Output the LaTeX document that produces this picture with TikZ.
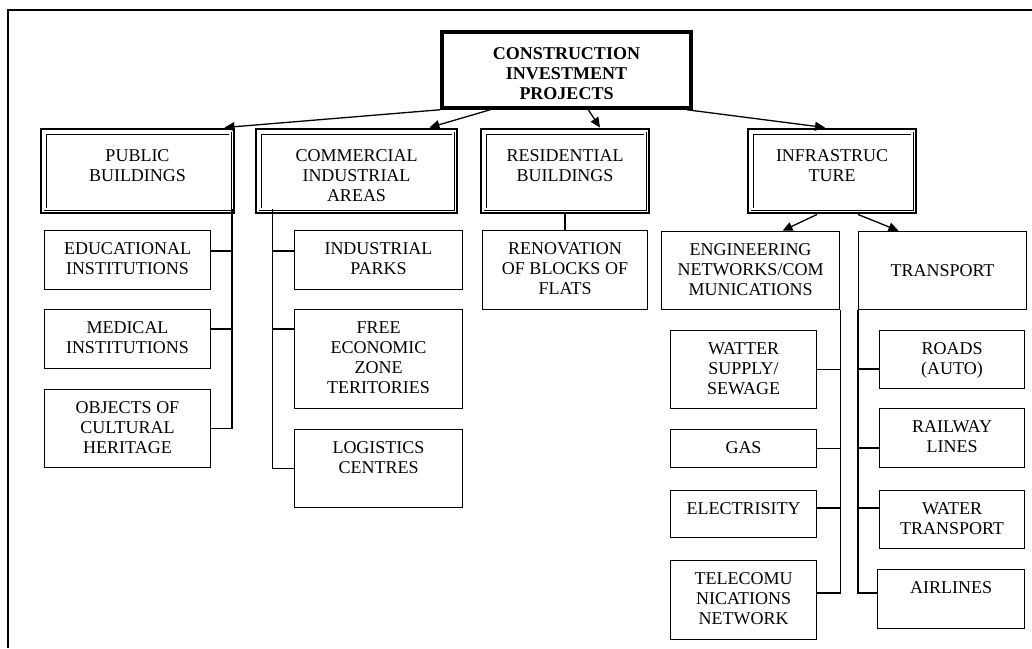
\documentclass[tikz,border=0pt]{standalone}
\usepackage{fontspec}
\setmainfont{Liberation Serif}
\usetikzlibrary{arrows.meta}

\tikzset{
	cell/.style={draw, line width=1.5pt, inner sep=0pt},
	group/.style={draw, line width=0.9pt, double, double distance=1.2pt, inner sep=0pt, minimum height=76pt},
	root/.style={draw, line width=3.5pt, inner sep=0pt, minimum width=249pt, minimum height=76pt},
	txt/.style={anchor=north, align=center, inner sep=0pt, font=\fontsize{18}{20}\selectfont},
	link/.style={line width=1.5pt},
	arr/.style={line width=1.3pt, -{Triangle[length=10pt,width=9pt]}}
}

\begin{document}
\begin{tikzpicture}[x=1pt, y=-1pt]
		
		\useasboundingbox (0,0) rectangle (1032,648);
		\draw[line width=2pt] (1032,10) -- (8,10) -- (8,648);
		
		\node[root, label={[txt, font=\fontsize{18}{20}\selectfont\bfseries, yshift=-17pt]north:CONSTRUCTION\\INVESTMENT\\PROJECTS}] (top) at (566.5,70) {};
		
		\node[group, minimum width=185pt, label={[txt, yshift=-16.5pt]north:PUBLIC\\BUILDINGS}] (pub) at (137.5,171) {};
		\node[group, minimum width=193pt, label={[txt, yshift=-16.5pt]north:COMMERCIAL\\INDUSTRIAL\\AREAS}] (com) at (356.5,171) {};
		\node[group, minimum width=160pt, label={[txt, yshift=-16.5pt]north:RESIDENTIAL\\BUILDINGS}] (res) at (565,171) {};
		\node[group, minimum width=160pt, label={[txt, yshift=-16.5pt]north:INFRASTRUC\\TURE}] (inf) at (832,171) {};
		
		\foreach \n in {pub,com,res,inf}
			\draw[line width=1.6pt] ([shift={(-3.6pt,3.6pt)}]\n.north west) rectangle ([shift={(3.6pt,-3.6pt)}]\n.south east);
		
		\node[cell, minimum width=166pt, minimum height=59pt, label={[txt, yshift=-13pt]north:EDUCATIONAL\\INSTITUTIONS}] (edu) at (127.5,260) {};
		\node[cell, minimum width=166pt, minimum height=59pt, label={[txt, yshift=-13pt]north:MEDICAL\\INSTITUTIONS}] (med) at (127.5,339) {};
		\node[cell, minimum width=166pt, minimum height=78pt, label={[txt, yshift=-13pt]north:OBJECTS OF\\CULTURAL\\HERITAGE}] (obj) at (127.5,428.5) {};
		
		\node[cell, minimum width=168pt, minimum height=59pt, label={[txt, yshift=-13pt]north:INDUSTRIAL\\PARKS}] (ind) at (378.5,260) {};
		\node[cell, minimum width=168pt, minimum height=99pt, label={[txt, yshift=-13pt]north:FREE\\ECONOMIC\\ZONE\\TERITORIES}] (fez) at (378.5,359) {};
		\node[cell, minimum width=168pt, minimum height=78pt, label={[txt, yshift=-13pt]north:LOGISTICS\\CENTRES}] (log) at (378.5,468.5) {};
		
		\node[cell, minimum width=165pt, minimum height=79pt, label={[txt, yshift=-13pt]north:RENOVATION\\OF BLOCKS OF\\FLATS}] (ren) at (565,270) {};
		
		\node[cell, minimum width=178pt, minimum height=78pt, label={[txt, yshift=-13pt]north:ENGINEERING\\NETWORKS/COM\\MUNICATIONS}] (eng) at (750.5,270.5) {};
		\node[cell, minimum width=168pt, minimum height=78pt, label={[txt, yshift=-34pt]north:TRANSPORT}] (tra) at (942.5,270.5) {};
		
		\node[cell, minimum width=146pt, minimum height=78pt, label={[txt, yshift=-13pt]north:WATTER\\SUPPLY/\\SEWAGE}] (wat) at (743.5,369.5) {};
		\node[cell, minimum width=146pt, minimum height=38pt, label={[txt, yshift=-13pt]north:GAS}] (gas) at (743.5,448.5) {};
		\node[cell, minimum width=146pt, minimum height=47pt, label={[txt, yshift=-13pt]north:ELECTRISITY}] (ele) at (743.5,514) {};
		\node[cell, minimum width=146pt, minimum height=79pt, label={[txt, yshift=-13pt]north:TELECOMU\\NICATIONS\\NETWORK}] (tel) at (743.5,600) {};
		
		\node[cell, minimum width=145pt, minimum height=58pt, label={[txt, yshift=-13pt]north:ROADS\\(AUTO)}] (rds) at (952,359.5) {};
		\node[cell, minimum width=145pt, minimum height=59pt, label={[txt, yshift=-13pt]north:RAILWAY\\LINES}] (rai) at (952,438) {};
		\node[cell, minimum width=145pt, minimum height=58pt, label={[txt, yshift=-13pt]north:WATER\\TRANSPORT}] (wtr) at (952,519.5) {};
		\node[cell, minimum width=147pt, minimum height=59pt, label={[txt, yshift=-13pt]north:AIRLINES}] (air) at (951,599) {};
		
		\draw[arr] (top.south west) -- ([shift={(-6pt,5pt)}]pub.north east);
		\draw[arr] ([xshift=50pt]top.south west) -- ([shift={(-24pt,5pt)}]com.north east);
		\draw[arr] ([xshift=148pt]top.south west) -- ([shift={(35pt,5pt)}]res.north);
		\draw[arr] ([xshift=-6pt]top.south east) -- ([shift={(-7pt,5pt)}]inf.north);
		\draw[arr] ([shift={(-15pt,-5pt)}]inf.south) -- ([xshift=32pt]eng.north);
		\draw[arr] ([shift={(26pt,-5pt)}]inf.south) -- ([xshift=-44pt]tra.north);
		
		\draw[link] ([xshift=1.5pt]pub.south east) |- ([yshift=9pt]edu.east);
		\draw[link] ([xshift=1.5pt]pub.south east) |- ([yshift=10pt]med.east);
		\draw[link] ([xshift=1.5pt]pub.south east) |- (obj.east);
		
		\draw[link] ([xshift=13pt]com.south west) |- ([yshift=9pt]ind.west);
		\draw[link] ([xshift=13pt]com.south west) |- ([yshift=30pt]fez.west);
		\draw[link] ([xshift=13pt]com.south west) |- (log.west);
		
		\draw[link] ([yshift=-5pt]res.south) -- (ren.north);
		
		\draw[link] (eng.south east) |- (wat.east);
		\draw[link] (eng.south east) |- (gas.east);
		\draw[link] (eng.south east) |- ([yshift=6pt]ele.east);
		\draw[link] (eng.south east) |- ([yshift=7pt]tel.east);
		
		\draw[link] (tra.south west) |- ([yshift=-9.5pt]rds.west);
		\draw[link] (tra.south west) |- ([yshift=-10pt]rai.west);
		\draw[link] (tra.south west) |- ([yshift=11.5pt]wtr.west);
		\draw[link] (tra.south west) |- ([yshift=6pt]air.west);
		
	\end{tikzpicture}
\end{document}
